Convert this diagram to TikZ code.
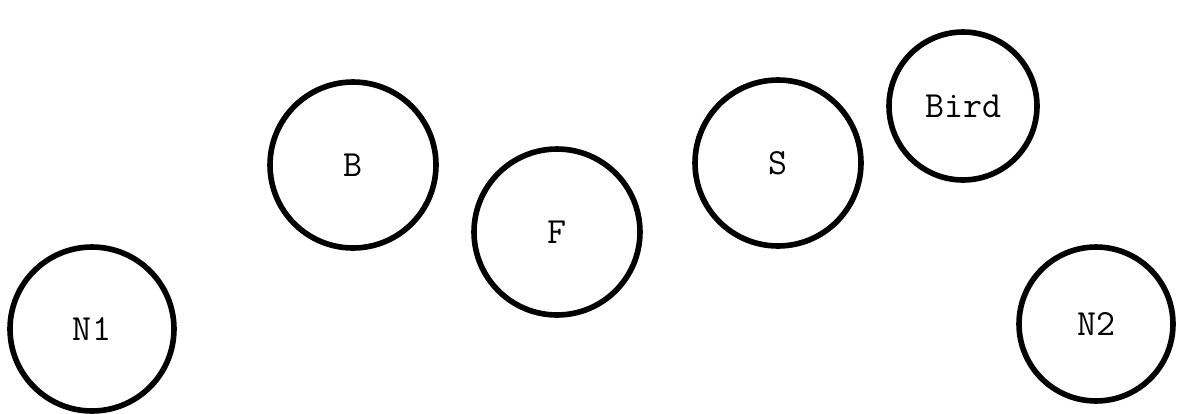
\documentclass[tikz,border=0pt]{standalone}
\usepackage{fontspec}
\usetikzlibrary{positioning}

\begin{document}
\begin{tikzpicture}[
  x=0.02cm, y=-0.02cm,
  simpul/.style={draw, circle, line width=3.2pt, inner sep=0pt,
    font=\ttfamily\fontsize{21}{24}\selectfont}
]
  \useasboundingbox (0,0) rectangle (1183,413);

  \node[simpul, minimum size=3.28cm] (n1) at (92,329) {N1};
  \node[simpul, minimum size=3.32cm] (b) at (353,165) {B};
  \node[simpul, minimum size=3.32cm] (f) at (557,232) {F};
  \node[simpul, minimum size=3.32cm] (s) at (778,163) {S};
  \node[simpul, minimum size=2.96cm] (bird) at (963,106) {Bird};
  \node[simpul, minimum size=3.08cm] (n2) at (1096,324) {N2};
\end{tikzpicture}
\end{document}
